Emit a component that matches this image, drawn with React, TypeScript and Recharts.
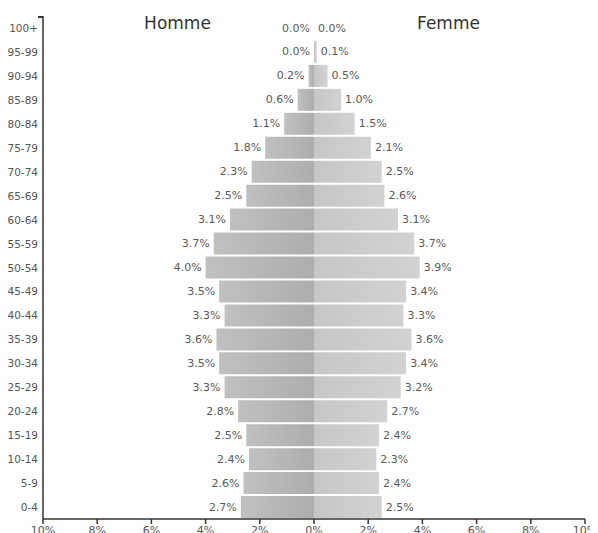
import React from "react";
import { BarChart, Bar, XAxis, YAxis, LabelList } from "recharts";

const ageGroups = [
  "100+", "95-99", "90-94", "85-89", "80-84", "75-79", "70-74", "65-69", "60-64", "55-59",
  "50-54", "45-49", "40-44", "35-39", "30-34", "25-29", "20-24", "15-19", "10-14", "5-9", "0-4",
];
const hommeValues = [0.0, 0.0, 0.2, 0.6, 1.1, 1.8, 2.3, 2.5, 3.1, 3.7, 4.0, 3.5, 3.3, 3.6, 3.5, 3.3, 2.8, 2.5, 2.4, 2.6, 2.7];
const femmeValues = [0.0, 0.1, 0.5, 1.0, 1.5, 2.1, 2.5, 2.6, 3.1, 3.7, 3.9, 3.4, 3.3, 3.6, 3.4, 3.2, 2.7, 2.4, 2.3, 2.4, 2.5];
const xTicks = [-10, -8, -6, -4, -2, 0, 2, 4, 6, 8, 10];
const titles = { homme: "Homme", femme: "Femme" };

const data = ageGroups.map((age, i) => ({
  age,
  homme: -hommeValues[i],
  femme: femmeValues[i],
}));

const FONT = "DejaVu Sans";

const fmt = (v: number) => Math.abs(v).toFixed(1) + "%";

const LeftLabel = (props: any) => {
  const { x, y, width, height, value } = props;
  const left = Math.min(x, x + width);
  return (
    <text x={left - 4} y={y + height / 2} textAnchor="end" dominantBaseline="central"
      fontSize={11} fill="#5a5a5a" fontFamily={FONT}>
      {fmt(value)}
    </text>
  );
};

const RightLabel = (props: any) => {
  const { x, y, width, height, value } = props;
  const right = Math.max(x, x + width);
  return (
    <text x={right + 4} y={y + height / 2} textAnchor="start" dominantBaseline="central"
      fontSize={11} fill="#5a5a5a" fontFamily={FONT}>
      {fmt(value)}
    </text>
  );
};

const YTick = (props: any) => {
  const { x, y, payload } = props;
  return (
    <text x={x} y={y} textAnchor="end" dominantBaseline="central"
      fontSize={10.5} fill="#555" fontFamily={FONT}>
      {payload.value}
    </text>
  );
};

export default function App() {
  return (
    <div style={{ position: "relative", marginLeft: -8, width: 598, height: 525, fontFamily: FONT }}>
      <div style={{ position: "absolute", left: 0, top: 5, width: 598, height: 20, fontSize: 17, color: "#333", lineHeight: "20px" }}>
        <span style={{ position: "absolute", left: 177.5, transform: "translateX(-50%)" }}>{titles.homme}</span>
        <span style={{ position: "absolute", left: 448.5, transform: "translateX(-50%)" }}>{titles.femme}</span>
      </div>
      <div style={{ position: "absolute", left: 38, top: 8, width: 5, height: 1.5, background: "#333" }} />
      <BarChart
        width={598}
        height={525}
        data={data}
        layout="vertical"
        stackOffset="sign"
        margin={{ top: 8, right: 13, bottom: 0, left: 8 }}
        barSize={22}
      >
        <defs>
          <linearGradient id="gM" x1="0" y1="0" x2="1" y2="0">
            <stop offset="0%" stopColor="#c0c0c0" />
            <stop offset="100%" stopColor="#adadad" />
          </linearGradient>
          <linearGradient id="gF" x1="0" y1="0" x2="1" y2="0">
            <stop offset="0%" stopColor="#c6c6c6" />
            <stop offset="100%" stopColor="#d2d2d2" />
          </linearGradient>
        </defs>
        <XAxis
          type="number"
          domain={[-10, 10]}
          ticks={xTicks}
          tickFormatter={(v: number) => Math.abs(v) + "%"}
          height={14}
          axisLine={{ stroke: "#333", strokeWidth: 1.5 }}
          tickLine={{ stroke: "#333", strokeWidth: 1.5 }}
          tickSize={5}
          tick={{ fontSize: 11, fill: "#555", fontFamily: FONT }}
          allowDataOverflow
        />
        <YAxis
          type="category"
          dataKey="age"
          width={35}
          axisLine={{ stroke: "#333", strokeWidth: 1.5 }}
          tickLine={false}
          tickSize={0}
          tickMargin={5}
          interval={0}
          tick={<YTick />}
        />
        <Bar dataKey="homme" stackId="a" fill="url(#gM)" minPointSize={0.01} isAnimationActive={false}>
          <LabelList dataKey="homme" content={LeftLabel} />
        </Bar>
        <Bar dataKey="femme" stackId="a" fill="url(#gF)" minPointSize={0.01} isAnimationActive={false}>
          <LabelList dataKey="femme" content={RightLabel} />
        </Bar>
      </BarChart>
    </div>
  );
}
